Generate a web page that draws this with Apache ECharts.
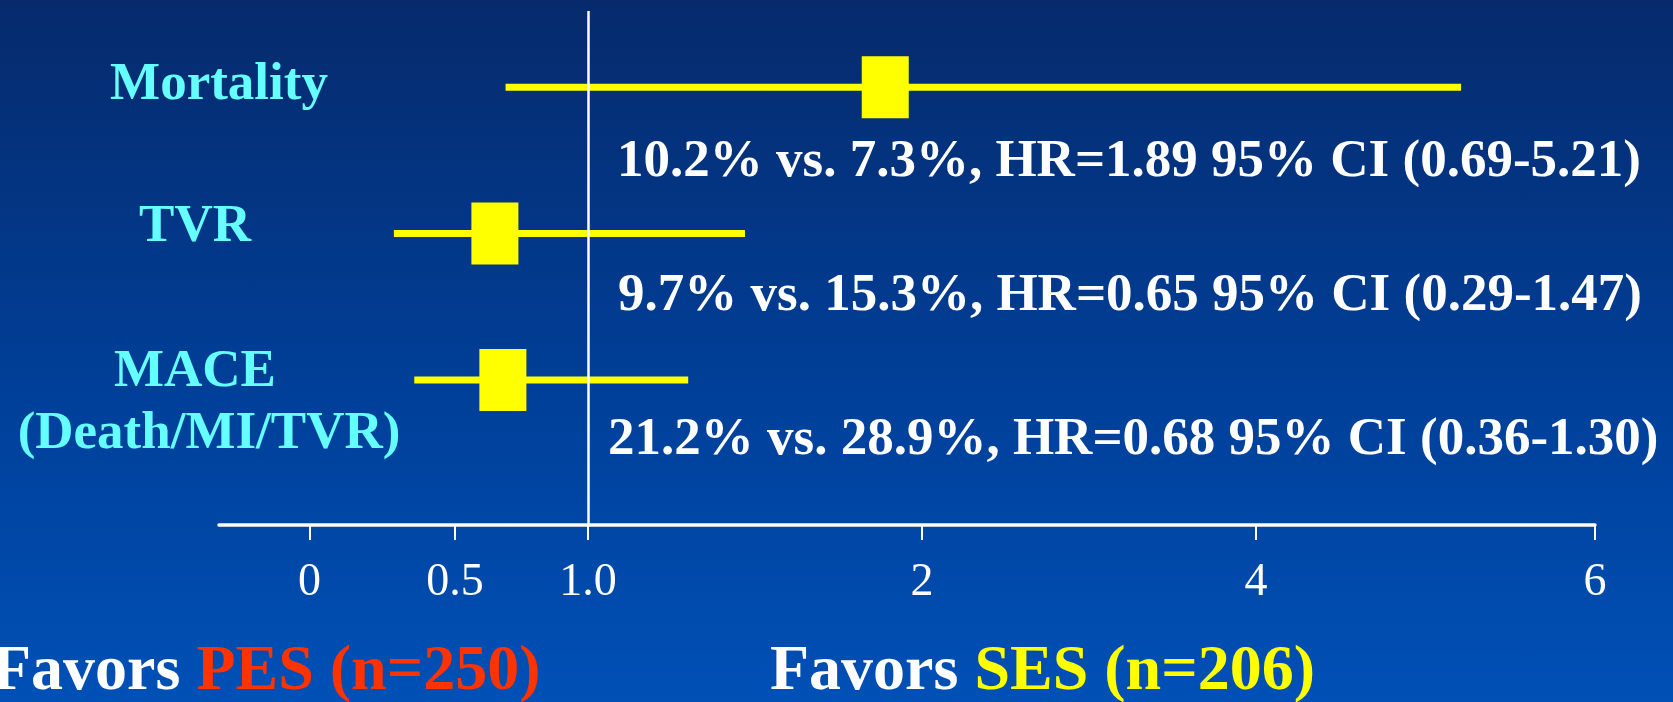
<!DOCTYPE html>
<html>
<head>
<meta charset="utf-8">
<title>Forest plot: PES vs SES</title>
<script src="https://cdn.jsdelivr.net/npm/echarts@6/dist/echarts.min.js"></script>
<style>
  html, body { margin: 0; padding: 0; }
  body { width: 1673px; height: 702px; overflow: hidden;
         background: linear-gradient(to bottom, #062a6c 0%, #003f98 55%, #0050b6 100%); }
  #chart { width: 1673px; height: 702px; }
</style>
</head>
<body>
<div id="chart"></div>
<script>
// ---- data ----
const endpoints   = ['Mortality', 'TVR', 'MACE'];
const subtitles   = ['', '', '(Death/MI/TVR)'];
const ratePES     = [10.2, 9.7, 21.2];
const rateSES     = [7.3, 15.3, 28.9];
const hazardRatio = [1.89, 0.65, 0.68];
const ciLow       = [0.69, 0.29, 0.36];
const ciHigh      = [5.21, 1.47, 1.30];

// axis tick values and their labels
const tickValues = [0, 0.5, 1, 2, 4, 6];
const tickLabels = ['0', '0.5', '1.0', '2', '4', '6'];

// ---- axis scale: the axis is stretched piecewise between its ticks ----
const tickStops = [0, 145.5, 278.5, 612.5, 946.5, 1285.5];
function scalePos(v) {
  for (let i = 1; i < tickValues.length; i++) {
    if (v <= tickValues[i] || i === tickValues.length - 1) {
      const t = (v - tickValues[i - 1]) / (tickValues[i] - tickValues[i - 1]);
      return tickStops[i - 1] + t * (tickStops[i] - tickStops[i - 1]);
    }
  }
}

const rows = endpoints.map((name, i) => [i, scalePos(ciLow[i]), scalePos(hazardRatio[i]), scalePos(ciHigh[i])]);

const SERIF = '"Liberation Serif", "Times New Roman", serif';
const CYAN = '#66ffff';
const YELLOW = '#ffff00';

function annotation(i) {
  return ratePES[i].toFixed(1) + '% vs. ' + rateSES[i].toFixed(1) + '%, HR=' +
    hazardRatio[i].toFixed(2) + ' 95% CI (' + ciLow[i].toFixed(2) + '-' + ciHigh[i].toFixed(2) + ')';
}

// text layout (pixel positions of the text blocks)
const nameLayout = [
  { x: 219, y: 85 }, { x: 195, y: 227 }, { x: 195, y: 372 }
];
const subLayout = { x: 209, y: 434 };
const noteLayout = [
  { x: 617, y: 162 }, { x: 618, y: 296 }, { x: 608, y: 440 }
];

const graphics = [];
endpoints.forEach((name, i) => {
  graphics.push({
    type: 'text', x: nameLayout[i].x, y: nameLayout[i].y, silent: true,
    style: { text: name, fill: CYAN, font: 'bold 53px ' + SERIF, align: 'center', verticalAlign: 'middle' }
  });
  if (subtitles[i]) {
    graphics.push({
      type: 'text', x: subLayout.x, y: subLayout.y, silent: true,
      style: { text: subtitles[i], fill: CYAN, font: 'bold 53px ' + SERIF, align: 'center', verticalAlign: 'middle' }
    });
  }
  graphics.push({
    type: 'text', x: noteLayout[i].x, y: noteLayout[i].y, silent: true,
    style: { text: annotation(i), fill: '#ffffff', font: 'bold 53px ' + SERIF, align: 'left', verticalAlign: 'middle' }
  });
});

// favours captions under the axis
const favourRich = {
  w: { fill: '#ffffff', font: 'bold 64px ' + SERIF },
  r: { fill: '#ff3300', font: 'bold 64px ' + SERIF },
  y: { fill: YELLOW, font: 'bold 64px ' + SERIF }
};
graphics.push({
  type: 'text', x: -8, y: 672, silent: true,
  style: { text: '{w|Favors }{r|PES (n=250)}', rich: favourRich, align: 'left', verticalAlign: 'middle' }
});
graphics.push({
  type: 'text', x: 770, y: 672, silent: true,
  style: { text: '{w|Favors }{y|SES (n=206)}', rich: favourRich, align: 'left', verticalAlign: 'middle' }
});

const chart = echarts.init(document.getElementById('chart'), null, { renderer: 'canvas' });

chart.setOption({
  backgroundColor: 'transparent',
  animation: false,
  grid: { left: 219, right: 78, top: 11, bottom: 177 },
  xAxis: {
    type: 'value',
    min: -90.5,
    max: tickStops[tickStops.length - 1],
    splitLine: { show: false },
    axisLine: { show: true, onZero: false, lineStyle: { color: '#ffffff', width: 3.5 } },
    axisTick: {
      show: true, inside: false, length: 15,
      customValues: tickStops,
      lineStyle: { color: '#ffffff', width: 2 }
    },
    axisLabel: {
      show: true, margin: 35,
      customValues: tickStops,
      color: '#ffffff',
      fontFamily: SERIF, fontSize: 46, fontWeight: 'normal',
      formatter: function (v) {
        let best = 0;
        tickStops.forEach((p, i) => { if (Math.abs(p - v) < Math.abs(tickStops[best] - v)) best = i; });
        return tickLabels[best];
      }
    }
  },
  yAxis: {
    type: 'value', inverse: true, min: -0.52, max: 2.99,
    show: false, splitLine: { show: false }
  },
  series: [{
    type: 'custom',
    data: rows,
    encode: { x: [1, 2, 3], y: 0 },
    renderItem: function (params, api) {
      const row = api.value(0);
      const pLo = api.coord([api.value(1), row]);
      const pHr = api.coord([api.value(2), row]);
      const pHi = api.coord([api.value(3), row]);
      const lineH = 7, boxW = 47, boxH = 62;
      return {
        type: 'group',
        children: [
          { type: 'rect', shape: { x: pLo[0], y: pLo[1] - lineH / 2, width: pHi[0] - pLo[0], height: lineH },
            style: { fill: YELLOW } },
          { type: 'rect', shape: { x: pHr[0] - boxW / 2, y: pHr[1] - boxH / 2, width: boxW, height: boxH },
            style: { fill: YELLOW } }
        ]
      };
    },
    markLine: {
      silent: true, symbol: 'none', animation: false,
      label: { show: false },
      lineStyle: { color: '#ffffff', width: 2.5, type: 'solid' },
      data: [{ xAxis: scalePos(1) }]
    },
    z: 3
  }],
  graphic: graphics
});
</script>
</body>
</html>
